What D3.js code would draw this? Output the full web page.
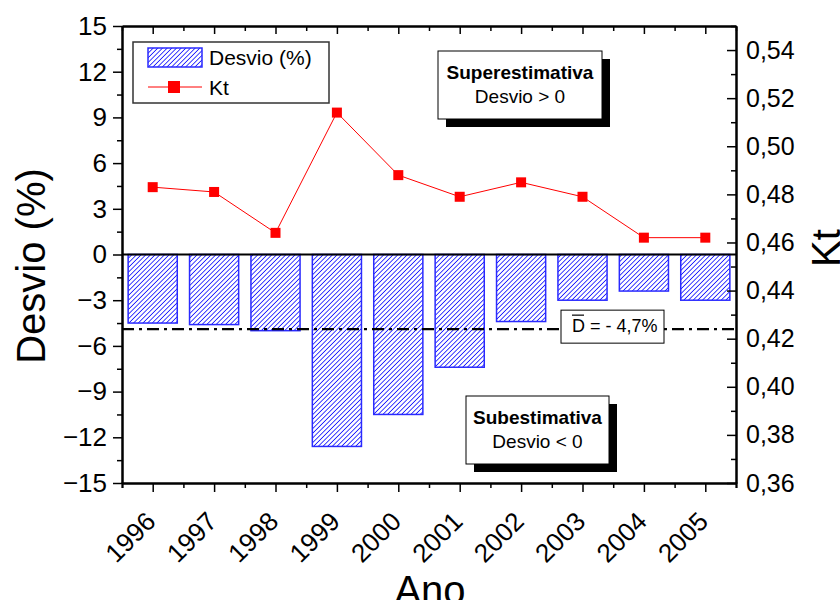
<!DOCTYPE html>
<html>
<head>
<meta charset="utf-8">
<script src="https://cdn.jsdelivr.net/npm/d3@7"></script>
<style>
  body { margin: 0; background: #fff; }
  svg { display: block; font-family: Arial, "Liberation Sans", sans-serif; }
  .axis path, .axis line { stroke: #000; }
</style>
</head>
<body>
<svg id="chart" width="840" height="600"></svg>
<script>
//

const years = [1996, 1997, 1998, 1999, 2000, 2001, 2002, 2003, 2004, 2005]
const desvio = [-4.5, -4.6, -5.0, -12.6, -10.5, -7.4, -4.4, -3.0, -2.4, -3.0]
const kt = [0.483, 0.481, 0.464, 0.514, 0.488, 0.479, 0.485, 0.479, 0.462, 0.462]
const desvioTicks = [-15, -12, -9, -6, -3, 0, 3, 6, 9, 12, 15]
const ktTicks = [0.36, 0.38, 0.40, 0.42, 0.44, 0.46, 0.48, 0.50, 0.52, 0.54]
const meanLine = -4.9
const meanLabel = '= - 4,7%'

//

const svg = d3.select('#chart')
const margin = {top: 26, right: 104, bottom: 117, left: 122}
const width = 840 - margin.left - margin.right
const height = 600 - margin.top - margin.bottom

const x = d3.scaleLinear().domain([1995.5, 2005.5]).range([0, width])
const y = d3.scaleLinear().domain([-15, 15]).range([height, 0])
const y2 = d3.scaleLinear().domain([0.36, 0.55]).range([height, 0])

const fmt = d3.format('.2f')
const comma = (d) => fmt(d).replace('.', ',')

// hatch pattern
svg.append('defs').append('pattern')
  .attr('id', 'hatch')
  .attr('patternUnits', 'userSpaceOnUse')
  .attr('width', 3.3)
  .attr('height', 3.3)
  .attr('patternTransform', 'rotate(45)')
.append('line')
  .attr('x1', 0).attr('y1', 0)
  .attr('x2', 0).attr('y2', 3.3)
  .attr('stroke', '#0000ff')
  .attr('stroke-width', 1.5)

const g = svg.append('g')
  .attr('transform', 'translate(' + margin.left + ',' + margin.top + ')')

// bars
g.selectAll('.bar')
  .data(years)
  .enter().append('rect')
  .attr('class', 'bar')
  .attr('x', (d) => x(d - 0.4))
  .attr('width', (d) => x(d + 0.4) - x(d - 0.4))
  .attr('y', y(0))
  .attr('height', (d, i) => y(desvio[i]) - y(0))
  .attr('fill', 'url(#hatch)')
  .attr('stroke', '#2a2aff')
  .attr('stroke-width', 1.5)

// zero line
g.append('line')
  .attr('x1', 0).attr('x2', width)
  .attr('y1', y(0)).attr('y2', y(0))
  .attr('stroke', '#000').attr('stroke-width', 2)

// mean line
g.append('line')
  .attr('x1', 0).attr('x2', width)
  .attr('y1', y(meanLine)).attr('y2', y(meanLine))
  .attr('stroke', '#000').attr('stroke-width', 2.2)
  .attr('stroke-dasharray', '12,5,3,5')

// Kt line
const line = d3.line()
  .x((d, i) => x(years[i]))
  .y((d) => y2(d))

g.append('path')
  .datum(kt)
  .attr('d', line)
  .attr('fill', 'none')
  .attr('stroke', '#ff0000')
  .attr('stroke-width', 1)

g.selectAll('.dot')
  .data(kt)
  .enter().append('rect')
  .attr('class', 'dot')
  .attr('x', (d, i) => x(years[i]) - 5)
  .attr('y', (d) => y2(d) - 5)
  .attr('width', 10)
  .attr('height', 10)
  .attr('fill', '#ff0000')

// axes
const tickFont = (sel, size) => sel.selectAll('text')
  .attr('font-size', size)
  .attr('fill', '#000')
  .attr('font-family', 'Arial, "Liberation Sans", sans-serif')

const halfYears = d3.range(1995.5, 2006, 0.5)
const xMinor = halfYears.filter((d) => !years.includes(d))

const bottomAxis = g.append('g')
  .attr('class', 'axis')
  .attr('transform', 'translate(0,' + height + ')')
bottomAxis.append('g')
  .call(d3.axisBottom(x).tickValues(xMinor).tickSize(5).tickFormat(''))
bottomAxis.append('g')
  .call(d3.axisBottom(x).tickValues(years).tickSize(9).tickSizeOuter(0).tickFormat(d3.format('d')))
  .call((s) => tickFont(s, 26))
  .call((s) => s.selectAll('.tick text')
    .attr('text-anchor', 'end')
    .attr('dy', 0)
    .attr('y', 0)
    .attr('transform', 'translate(4,40) rotate(-45)'))
bottomAxis.selectAll('path').attr('stroke-width', 2)
bottomAxis.selectAll('line').attr('stroke-width', 1.5)

const topAxis = g.append('g').attr('class', 'axis')
topAxis.append('g')
  .call(d3.axisBottom(x).tickValues(xMinor).tickSize(5).tickSizeOuter(0).tickFormat(''))
topAxis.append('g')
  .call(d3.axisBottom(x).tickValues(years).tickSize(8).tickSizeOuter(0).tickFormat(''))
topAxis.selectAll('path').attr('stroke-width', 2)
topAxis.selectAll('line').attr('stroke-width', 1.5)

const leftAxis = g.append('g').attr('class', 'axis')
leftAxis.append('g')
  .call(d3.axisLeft(y).tickValues(d3.range(-13.5, 15, 3)).tickSize(5).tickSizeOuter(0).tickFormat(''))
leftAxis.append('g')
  .call(d3.axisLeft(y).tickValues(desvioTicks).tickSize(9).tickSizeOuter(0).tickPadding(6))
  .call((s) => tickFont(s, 26))
leftAxis.selectAll('path').attr('stroke-width', 2)
leftAxis.selectAll('line').attr('stroke-width', 1.5)

const rightAxis = g.append('g')
  .attr('class', 'axis')
  .attr('transform', 'translate(' + width + ',0)')
rightAxis.append('g')
  .call(d3.axisLeft(y2).tickValues(d3.range(0.37, 0.555, 0.02)).tickSize(5).tickSizeOuter(0).tickFormat(''))
rightAxis.append('g')
  .call(d3.axisLeft(y2).tickValues(ktTicks).tickSize(9).tickSizeOuter(0).tickFormat(comma))
  .call((s) => tickFont(s, 25))
  .call((s) => s.selectAll('.tick text').attr('text-anchor', 'start').attr('x', 10))
rightAxis.selectAll('path').attr('stroke-width', 2)
rightAxis.selectAll('line').attr('stroke-width', 1.5)

// axis titles
svg.append('text')
  .attr('transform', 'translate(45,266) rotate(-90)')
  .attr('text-anchor', 'middle')
  .attr('font-size', 40)
  .text('Desvio (%)')

svg.append('text')
  .attr('transform', 'translate(840,248) rotate(-90)')
  .attr('text-anchor', 'middle')
  .attr('font-size', 40)
  .text('Kt')

svg.append('text')
  .attr('x', 430)
  .attr('y', 604)
  .attr('text-anchor', 'middle')
  .attr('font-size', 40)
  .text('Ano')

// legend
const legend = svg.append('g')
legend.append('rect')
  .attr('x', 133).attr('y', 42).attr('width', 196).attr('height', 61)
  .attr('fill', '#fff').attr('stroke', '#333').attr('stroke-width', 1.5)
legend.append('rect')
  .attr('x', 148).attr('y', 48).attr('width', 54).attr('height', 19)
  .attr('fill', 'url(#hatch)').attr('stroke', '#2a2aff').attr('stroke-width', 1.5)
legend.append('text')
  .attr('x', 209).attr('y', 65).attr('font-size', 21).text('Desvio (%)')
legend.append('line')
  .attr('x1', 148).attr('x2', 202).attr('y1', 87).attr('y2', 87)
  .attr('stroke', '#ff0000').attr('stroke-width', 1)
legend.append('rect')
  .attr('x', 168).attr('y', 81).attr('width', 12).attr('height', 12)
  .attr('fill', '#ff0000')
legend.append('text')
  .attr('x', 209).attr('y', 95).attr('font-size', 21).text('Kt')

// annotation boxes
function shadowBox (x0, y0, w, h, title, sub) {
  const b = svg.append('g')
  b.append('rect')
    .attr('x', x0 + 8).attr('y', y0 + 8).attr('width', w).attr('height', h)
    .attr('fill', '#000')
  b.append('rect')
    .attr('x', x0).attr('y', y0).attr('width', w).attr('height', h)
    .attr('fill', '#fff').attr('stroke', '#000').attr('stroke-width', 1)
  b.append('text')
    .attr('x', x0 + w / 2).attr('y', y0 + 28)
    .attr('text-anchor', 'middle').attr('font-size', 19).attr('font-weight', 'bold')
    .text(title)
  b.append('text')
    .attr('x', x0 + w / 2).attr('y', y0 + 52)
    .attr('text-anchor', 'middle').attr('font-size', 19)
    .text(sub)
}

shadowBox(438, 51, 164, 68, 'Superestimativa', 'Desvio > 0')
shadowBox(466, 396, 143, 68, 'Subestimativa', 'Desvio < 0')

// mean label
const my = margin.top + y(meanLine)
svg.append('rect')
  .attr('x', 561).attr('y', my - 19).attr('width', 103).attr('height', 33)
  .attr('fill', '#fff').attr('stroke', '#000').attr('stroke-width', 1)
const dText = svg.append('text')
  .attr('x', 572).attr('y', my + 3).attr('font-size', 18)
dText.append('tspan').text('D')
dText.append('tspan').text(' ' + meanLabel)
svg.append('line')
  .attr('x1', 572).attr('x2', 584).attr('y1', my - 14).attr('y2', my - 14)
  .attr('stroke', '#000').attr('stroke-width', 1.2)
</script>
</body>
</html>
